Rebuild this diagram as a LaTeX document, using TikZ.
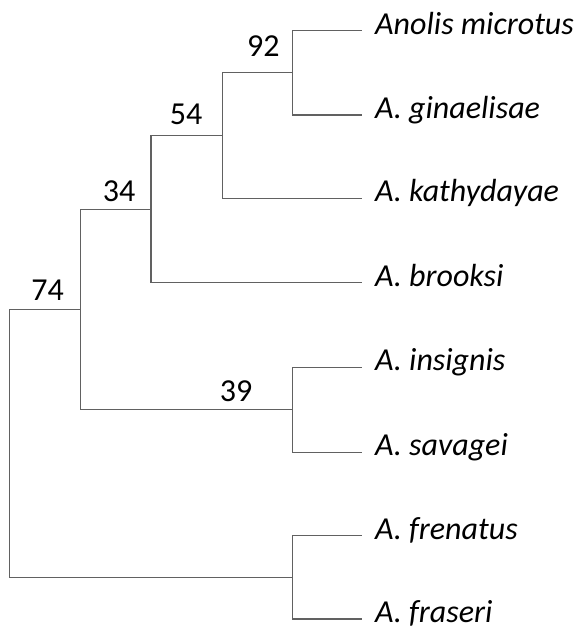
\documentclass[tikz,border=0pt]{standalone}
\usepackage{fontspec}
\setmainfont{Carlito}
\usepackage{tikz}
\usetikzlibrary{calc}
\tikzset{
  branch/.style ={draw=black!62, line width=1.2pt},
  taxon/.style  ={anchor=base west, inner sep=0pt, font=\fontsize{32}{37}\selectfont\itshape},
  support/.style={anchor=base, inner sep=0pt, font=\fontsize{32}{37}\selectfont},
}

\begin{document}
\begin{tikzpicture}[x=1pt, y=1pt]
  \useasboundingbox (0,0) rectangle (584,-630);
  % internal nodes
  \coordinate (root) at (9.3,-443);
  \coordinate (n74) at (80.7,-309.3);
  \coordinate (n34) at (151,-209.3);
  \coordinate (n54) at (222.3,-135.7);
  \coordinate (n92) at (292.7,-72.3);
  \coordinate (n39) at (292.7,-409.3);
  \coordinate (nfr) at (292.7,-577.3);
  % tips and names
  \foreach \i/\y/\name in {1/30.7/Anolis microtus, 2/115/A. ginaelisae,
      3/198.3/A. kathydayae, 4/282.7/A. brooksi, 5/367.3/A. insignis,
      6/452.3/A. savagei, 7/535.7/A. frenatus, 8/619/A. fraseri}{
    \coordinate (tip\i) at (362,-\y);
    \node[taxon] (sp\i) at ($(tip\i)+(13,-3.4)$) {\name};
  }
  % branches
  \draw[branch] (root) |- (n74);
  \draw[branch] (root) |- (nfr);
  \draw[branch] (n74) |- (n34);
  \draw[branch] (n74) |- (n39);
  \draw[branch] (n34) |- (n54);
  \draw[branch] (n34) |- (tip4);
  \draw[branch] (n54) |- (n92);
  \draw[branch] (n54) |- (tip3);
  \draw[branch] (n92) |- (tip1);
  \draw[branch] (n92) |- (tip2);
  \draw[branch] (n39) |- (tip5);
  \draw[branch] (n39) |- (tip6);
  \draw[branch] (nfr) |- (tip7);
  \draw[branch] (nfr) |- (tip8);
  % bootstrap values
  \node[support] (b74) at (47.7,-300) {74};
  \node[support] (b34) at (119,-201) {34};
  \node[support] (b54) at (186,-124) {54};
  \node[support] (b92) at (263.3,-56) {92};
  \node[support] (b39) at (236,-401.7) {39};
\end{tikzpicture}
\end{document}
